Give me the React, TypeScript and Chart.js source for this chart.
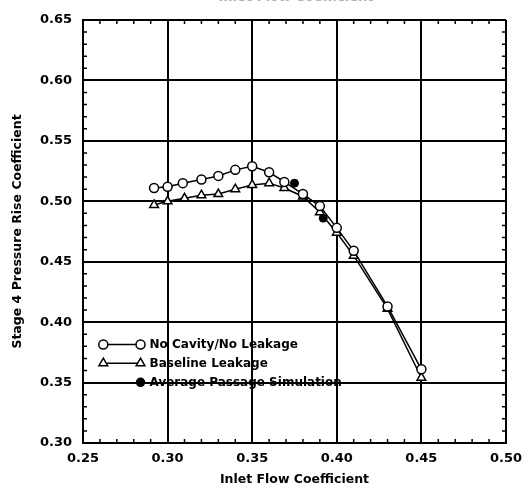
import React, { useEffect, useRef } from "react";
import { Chart, registerables } from "chart.js";

Chart.register(...registerables);

// ---- data ----
const noCavityX = [0.292, 0.300, 0.309, 0.320, 0.330, 0.340, 0.350, 0.360, 0.369, 0.380, 0.390, 0.400, 0.410, 0.430, 0.450];
const noCavityY = [0.511, 0.512, 0.515, 0.518, 0.521, 0.526, 0.529, 0.524, 0.516, 0.506, 0.496, 0.478, 0.459, 0.413, 0.361];
const baselineX = [0.292, 0.300, 0.310, 0.320, 0.330, 0.340, 0.350, 0.360, 0.369, 0.380, 0.390, 0.400, 0.410, 0.430, 0.450];
const baselineY = [0.497, 0.500, 0.5025, 0.505, 0.506, 0.510, 0.5135, 0.515, 0.511, 0.504, 0.491, 0.474, 0.455, 0.411, 0.354];
const avgPassageX = [0.375, 0.392];
const avgPassageY = [0.515, 0.486];

const seriesLabels = ["No Cavity/No Leakage", "Baseline Leakage", "Average Passage Simulation"];
const xTitle = "Inlet Flow Coefficient";
const yTitle = "Stage 4 Pressure Rise Coefficient";
const xMin = 0.25, xMax = 0.5, yMin = 0.3, yMax = 0.65, majorStep = 0.05, minorStep = 0.01;

const FONT = "'DejaVu Sans', 'Liberation Sans', Arial, sans-serif";

const zip = (xs: number[], ys: number[]) => xs.map((x, i) => ({ x, y: ys[i] }));

function drawMarker(ctx: CanvasRenderingContext2D, style: string, x: number, y: number, r: number, fill: string) {
  ctx.save();
  ctx.beginPath();
  if (style === "triangle") {
    let rad = 0;
    ctx.moveTo(x + Math.sin(rad) * r, y - Math.cos(rad) * r);
    rad += (2 * Math.PI) / 3;
    ctx.lineTo(x + Math.sin(rad) * r, y - Math.cos(rad) * r);
    rad += (2 * Math.PI) / 3;
    ctx.lineTo(x + Math.sin(rad) * r, y - Math.cos(rad) * r);
    ctx.closePath();
  } else {
    ctx.arc(x, y, r, 0, Math.PI * 2);
  }
  ctx.fillStyle = fill;
  ctx.fill();
  ctx.lineWidth = 1.5;
  ctx.strokeStyle = "#000";
  ctx.stroke();
  ctx.restore();
}

const minorTicksPlugin = {
  id: "minorTicks",
  beforeDatasetsDraw(chart: any) {
    const { ctx, chartArea, scales } = chart;
    const len = 4;
    ctx.save();
    ctx.strokeStyle = "#000";
    ctx.lineWidth = 1.5;
    const nx = Math.round((xMax - xMin) / minorStep);
    for (let i = 1; i < nx; i++) {
      if (i % 5 === 0) continue;
      const px = scales.x.getPixelForValue(xMin + i * minorStep);
      ctx.beginPath();
      ctx.moveTo(px, chartArea.bottom);
      ctx.lineTo(px, chartArea.bottom - len);
      ctx.moveTo(px, chartArea.top);
      ctx.lineTo(px, chartArea.top + len);
      ctx.stroke();
    }
    const ny = Math.round((yMax - yMin) / minorStep);
    for (let i = 1; i < ny; i++) {
      if (i % 5 === 0) continue;
      const py = scales.y.getPixelForValue(yMin + i * minorStep);
      ctx.beginPath();
      ctx.moveTo(chartArea.left, py);
      ctx.lineTo(chartArea.left + len, py);
      ctx.moveTo(chartArea.right, py);
      ctx.lineTo(chartArea.right - len, py);
      ctx.stroke();
    }
    ctx.restore();
  },
};

const legendPlugin = {
  id: "customLegend",
  afterDatasetsDraw(chart: any) {
    const { ctx, scales } = chart;
    const x0 = scales.x.getPixelForValue(0.262);
    const x1 = scales.x.getPixelForValue(0.284);
    const textX = x1 + 9;
    const rows = [
      scales.y.getPixelForValue(0.3815),
      scales.y.getPixelForValue(0.366),
      scales.y.getPixelForValue(0.3502),
    ];
    ctx.save();
    ctx.font = `bold 12px ${FONT}`;
    ctx.textBaseline = "middle";
    ctx.fillStyle = "#000";
    chart.data.datasets.forEach((ds: any, i: number) => {
      const y = rows[i];
      if (ds.showLine) {
        ctx.beginPath();
        ctx.moveTo(x0, y);
        ctx.lineTo(x1, y);
        ctx.lineWidth = 1.5;
        ctx.strokeStyle = "#000";
        ctx.stroke();
        drawMarker(ctx, ds.pointStyle, x0, y, ds.pointRadius, ds.pointBackgroundColor);
        drawMarker(ctx, ds.pointStyle, x1, y, ds.pointRadius, ds.pointBackgroundColor);
      } else {
        drawMarker(ctx, ds.pointStyle, x1, y, ds.pointRadius, ds.pointBackgroundColor);
      }
      ctx.fillStyle = "#000";
      ctx.fillText(ds.label, textX, y + 0.5);
    });
    ctx.restore();
  },
};

export default function App() {
  const ref = useRef<HTMLCanvasElement | null>(null);

  useEffect(() => {
    if (!ref.current) return;
    const chart = new Chart(ref.current, {
      type: "scatter",
      data: {
        datasets: [
          {
            label: seriesLabels[0],
            data: zip(noCavityX, noCavityY),
            showLine: true,
            borderColor: "#000",
            borderWidth: 1.5,
            pointStyle: "circle",
            pointRadius: 4.5,
            pointBorderWidth: 1.5,
            pointBackgroundColor: "#fff",
            pointBorderColor: "#000",
          } as any,
          {
            label: seriesLabels[1],
            data: zip(baselineX, baselineY),
            showLine: true,
            borderColor: "#000",
            borderWidth: 1.5,
            pointStyle: "triangle",
            pointRadius: 5,
            pointBorderWidth: 1.5,
            pointBackgroundColor: "#fff",
            pointBorderColor: "#000",
          } as any,
          {
            label: seriesLabels[2],
            data: zip(avgPassageX, avgPassageY),
            showLine: false,
            pointStyle: "circle",
            pointRadius: 4,
            pointBorderWidth: 1,
            pointBackgroundColor: "#000",
            pointBorderColor: "#000",
          } as any,
        ],
      },
      options: {
        responsive: false,
        animation: false,
        devicePixelRatio: 1,
        layout: { padding: { left: 0, top: 20, right: 17, bottom: 0 } },
        plugins: { legend: { display: false }, tooltip: { enabled: false } },
        scales: {
          x: {
            type: "linear",
            min: xMin,
            max: xMax,
            afterFit: (s: any) => { s.height = 46; },
            ticks: {
              stepSize: majorStep,
              color: "#000",
              padding: 8,
              font: { family: FONT, size: 13, weight: "bold" },
              callback: (v: any) => Number(v).toFixed(2),
            },
            grid: { color: "#000", lineWidth: 2, drawTicks: false },
            border: { display: true, color: "#000", width: 2 },
            title: {
              display: true,
              text: xTitle,
              color: "#000",
              padding: { top: 0, bottom: 2 },
              font: { family: FONT, size: 12.5, weight: "bold" },
            },
          },
          y: {
            type: "linear",
            min: yMin,
            max: yMax,
            afterFit: (s: any) => { s.width = 83; },
            ticks: {
              stepSize: majorStep,
              color: "#000",
              padding: 11,
              font: { family: FONT, size: 13, weight: "bold" },
              callback: (v: any) => Number(v).toFixed(2),
            },
            grid: { color: "#000", lineWidth: 2, drawTicks: false },
            border: { display: true, color: "#000", width: 2 },
            title: {
              display: true,
              text: yTitle,
              color: "#000",
              padding: { top: 10, bottom: 0 },
              font: { family: FONT, size: 12.5, weight: "bold" },
            },
          },
        },
      } as any,
      plugins: [minorTicksPlugin, legendPlugin],
    });
    return () => chart.destroy();
  }, []);

  return (
    <div style={{ position: "fixed", left: 0, top: 0, width: 523, height: 489, background: "#fff", overflow: "hidden" }}>
      <div
        style={{
          position: "absolute",
          left: 296,
          top: -10,
          transform: "translateX(-50%)",
          font: `bold 13px ${FONT}`,
          color: "#b0b0b0",
          whiteSpace: "nowrap",
          lineHeight: "14px",
        }}
      >
        {xTitle}
      </div>
      <canvas ref={ref} width={530} height={489} style={{ position: "absolute", left: 0, top: 0 }} />
    </div>
  );
}
